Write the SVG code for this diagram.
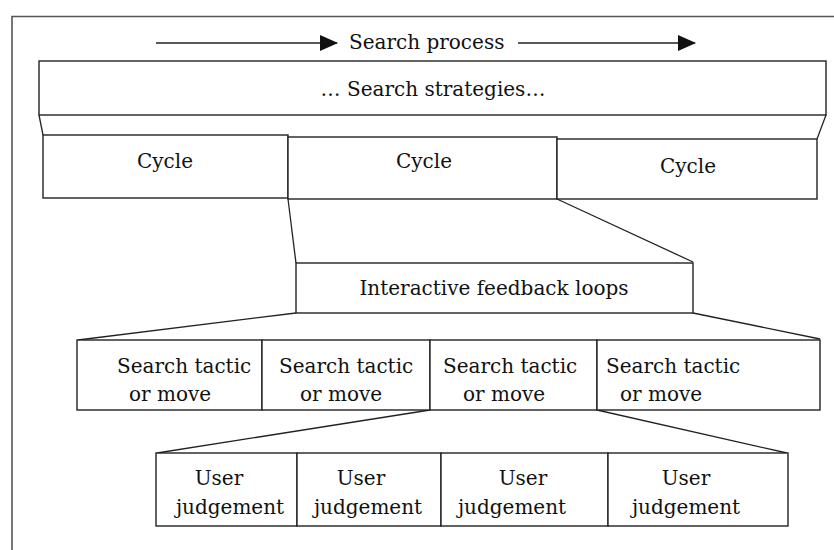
<svg xmlns="http://www.w3.org/2000/svg" width="834" height="550" viewBox="0 0 834 550">
  <style>
    .box { fill: #ffffff; stroke: #222222; stroke-width: 1.4; }
    .link { fill: none; stroke: #222222; stroke-width: 1.3; }
    .frame { fill: none; stroke: #555555; stroke-width: 1.6; }
    .lbl { font-family: "DejaVu Serif", "Liberation Serif", serif; font-size: 20px; fill: #111111; }
    .mid { text-anchor: middle; }
  </style>
  <defs>
    <marker id="head" viewBox="0 0 18 16" refX="17" refY="8" markerWidth="18" markerHeight="16" markerUnits="userSpaceOnUse" orient="auto">
      <path d="M0,0 L18,8 L0,16 Z" fill="#111111"/>
    </marker>
  </defs>

  <rect width="834" height="550" fill="#ffffff"/>
  <!-- outer frame (runs off the right and bottom edges) -->
  <path class="frame" d="M12,550 V16.5 H834"/>

  <!-- search process arrows -->
  <g id="process">
    <line class="link" x1="156" y1="43" x2="337" y2="43" marker-end="url(#head)"/>
    <text class="lbl" x="349" y="49">Search process</text>
    <line class="link" x1="518" y1="43" x2="695" y2="43" marker-end="url(#head)"/>
  </g>

  <g id="connectors">
    <line class="link" x1="39" y1="115" x2="43" y2="135"/>
    <line class="link" x1="826" y1="115" x2="817" y2="139"/>
    <line class="link" x1="288" y1="199" x2="296" y2="263"/>
    <line class="link" x1="557" y1="199" x2="693" y2="262"/>
    <line class="link" x1="296" y1="313" x2="78" y2="340"/>
    <line class="link" x1="693" y1="313" x2="820" y2="339"/>
    <line class="link" x1="430" y1="410" x2="157" y2="453"/>
    <line class="link" x1="597" y1="410" x2="787" y2="453"/>
  </g>

  <g id="strategies">
    <rect class="box" x="39" y="61" width="787" height="54"/>
    <text class="lbl mid" x="433" y="96">… Search strategies…</text>
  </g>

  <g id="cycle1">
    <rect class="box" x="43" y="135" width="245" height="63"/>
    <text class="lbl mid" x="165" y="168">Cycle</text>
  </g>
  <g id="cycle2">
    <rect class="box" x="288" y="137" width="269" height="62"/>
    <text class="lbl mid" x="424" y="168">Cycle</text>
  </g>
  <g id="cycle3">
    <rect class="box" x="557" y="139" width="260" height="60"/>
    <text class="lbl mid" x="688" y="173">Cycle</text>
  </g>

  <g id="feedback">
    <rect class="box" x="296" y="263" width="397" height="50"/>
    <text class="lbl mid" x="494" y="295">Interactive feedback loops</text>
  </g>

  <g id="tactic1">
    <rect class="box" x="77" y="340" width="185" height="70"/>
    <text class="lbl" x="117" y="373">Search tactic</text>
    <text class="lbl" x="129" y="401">or move</text>
  </g>
  <g id="tactic2">
    <rect class="box" x="262" y="340" width="168" height="70"/>
    <text class="lbl" x="279" y="373">Search tactic</text>
    <text class="lbl" x="300" y="401">or move</text>
  </g>
  <g id="tactic3">
    <rect class="box" x="430" y="340" width="167" height="70"/>
    <text class="lbl" x="443" y="373">Search tactic</text>
    <text class="lbl" x="463" y="401">or move</text>
  </g>
  <g id="tactic4">
    <rect class="box" x="597" y="340" width="223" height="70"/>
    <text class="lbl" x="606" y="373">Search tactic</text>
    <text class="lbl" x="620" y="401">or move</text>
  </g>

  <g id="judgement1">
    <rect class="box" x="156" y="453" width="141" height="73"/>
    <text class="lbl mid" x="219" y="485">User</text>
    <text class="lbl mid" x="230" y="514">judgement</text>
  </g>
  <g id="judgement2">
    <rect class="box" x="297" y="453" width="144" height="73"/>
    <text class="lbl mid" x="361" y="485">User</text>
    <text class="lbl mid" x="368" y="514">judgement</text>
  </g>
  <g id="judgement3">
    <rect class="box" x="441" y="453" width="167" height="73"/>
    <text class="lbl mid" x="523" y="485">User</text>
    <text class="lbl mid" x="512" y="514">judgement</text>
  </g>
  <g id="judgement4">
    <rect class="box" x="608" y="453" width="180" height="73"/>
    <text class="lbl mid" x="686" y="485">User</text>
    <text class="lbl mid" x="686" y="514">judgement</text>
  </g>
</svg>
